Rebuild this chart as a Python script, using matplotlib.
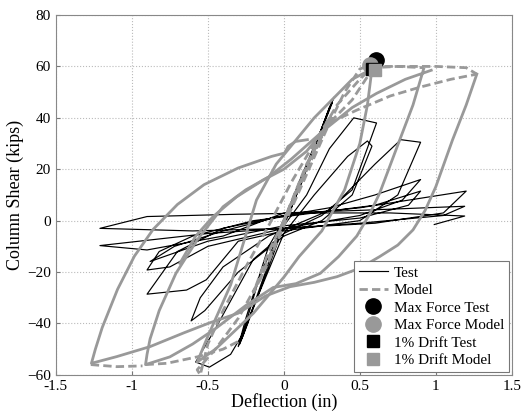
import matplotlib.pyplot as plt

plt.rcParams['font.family'] = ['Liberation Serif', 'DejaVu Serif']

# Test record (deflection in, shear kips)
test_x = [0.00, 0.10, 0.25, 0.33, 0.30, 0.05, -0.10, -0.25, -0.30, -0.27, -0.02, 0.10, 0.30, 0.32,
          0.28, 0.03, -0.15, -0.29, -0.25, 0.00, 0.15, 0.30, 0.46, 0.61, 0.45, 0.25, 0.00, -0.20,
          -0.45, -0.58, -0.49, -0.35, -0.28, 0.00, 0.20, 0.42, 0.55, 0.58, 0.45, 0.25, 0.00, -0.30,
          -0.52, -0.61, -0.55, -0.40, -0.10, 0.30, 0.60, 0.77, 0.90, 0.75, 0.50, 0.00, -0.30, -0.51,
          -0.64, -0.90, -0.70, -0.40, 0.00, 0.30, 0.60, 0.90, 0.78, 0.50, 0.00, -0.50, -0.75, -0.90,
          -0.82, -0.60, -0.20, 0.20, 0.60, 0.90, 0.82, 0.50, 0.00, -0.50, -0.88, -0.72, -0.40, 0.00,
          0.50, 1.20, 1.05, 0.60, 0.00, -0.50, -1.21, -0.90, -0.40, 0.00, 0.50, 1.19, 1.05, 0.50,
          0.00, -0.60, -1.21, -0.90, -0.30, 0.20, 0.70, 1.19, 0.99]
test_y = [0.0, 15.0, 36.0, 48.0, 44.0, 5.0, -10.0, -38.0, -49.0, -45.0, -3.0, 12.0, 44.0, 46.0,
          40.0, 2.0, -20.0, -48.0, -42.0, -2.0, 10.0, 28.0, 40.0, 38.0, 12.0, 2.0, -5.0, -15.0,
          -42.0, -55.0, -57.0, -52.0, -45.0, -5.0, 10.0, 25.0, 31.0, 29.0, 10.0, 0.0, -6.0, -20.0,
          -35.0, -39.0, -30.0, -18.0, -6.0, 4.0, 22.0, 31.5, 30.5, 10.0, 0.0, -4.0, -8.0, -23.0,
          -27.0, -28.6, -12.0, -3.0, 2.0, 5.0, 10.0, 16.0, 8.0, 2.0, -3.0, -10.0, -18.0, -19.2,
          -12.0, -6.0, 0.0, 3.0, 6.0, 11.5, 6.0, 1.0, -2.0, -8.0, -15.9, -10.0, -4.0, 2.0,
          5.0, 11.5, 3.0, -1.0, -3.0, -5.0, -9.7, -11.4, -6.0, 3.0, 4.0, 5.6, 2.0, -1.0,
          -3.0, -4.0, -3.0, 1.6, 2.5, 3.0, 3.0, 1.8, -1.5]

# Model: initial cycles up to the peak (dashed)
model_a_x = [0.00, 0.10, 0.20, 0.30, 0.20, 0.00, -0.10, -0.20, -0.10, 0.00, 0.15, 0.30, 0.40, 0.50, 0.57,
             0.55, 0.45, 0.30, 0.15, 0.00, -0.15, -0.30, -0.45, -0.57, -0.55, -0.50, -0.40, -0.25, -0.10,
             0.05, 0.20, 0.35, 0.50, 0.58, 0.75, 0.92]
model_a_y = [0.0, 14.0, 28.0, 40.0, 26.0, 0.0, -12.0, -28.0, -16.0, -2.0, 18.0, 38.0, 50.0, 59.0, 60.5,
             56.0, 47.0, 38.0, 22.0, 0.0, -22.0, -38.0, -50.0, -58.0, -60.0, -48.0, -35.0, -18.0, -2.0,
             15.0, 30.0, 45.0, 55.0, 59.5, 60.0, 59.5]
# Model: second cycle to +/-0.58 in (solid)
model_i_x = [0.58, 0.55, 0.50, 0.40, 0.25, 0.10, 0.00, -0.20, -0.45, -0.57, -0.50, -0.35, -0.18, -0.05,
             0.20, 0.45, 0.58]
model_i_y = [59.0, 45.0, 30.0, 12.0, -4.0, -14.0, -22.0, -36.0, -50.0, -55.0, -45.0, -25.0, 8.0, 22.0,
             40.0, 55.0, 59.0]
# Model: cycles to +/-0.92 in (solid)
model_b_x = [0.92, 0.85, 0.76, 0.69, 0.63, 0.56, 0.48, 0.36, 0.24, 0.08, -0.07, -0.25, -0.45, -0.60,
             -0.75, -0.91, -0.90, -0.88, -0.82, -0.71, -0.57, -0.40, -0.25, -0.10, 0.05, 0.26, 0.45,
             0.61, 0.80, 0.97]
model_b_y = [59.0, 45.0, 31.0, 20.0, 10.6, 2.0, -6.0, -14.0, -20.5, -24.5, -26.0, -33.0, -42.0, -48.0,
             -53.0, -56.0, -52.0, -46.0, -35.0, -20.5, -7.5, 5.4, 12.0, 17.0, 24.0, 35.0, 44.0,
             49.5, 55.0, 58.5]
# Model: skeleton plateau and negative bottoms (dashed)
model_c_x = [0.58, 0.80, 1.00, 1.20, 1.27]
model_c_y = [60.0, 60.0, 60.0, 59.5, 57.0]
model_d_x = [-0.91, -0.77, -0.57, -0.40, -0.30]
model_d_y = [-56.0, -55.5, -53.0, -50.0, -47.0]
model_e_x = [-1.27, -1.10, -0.93]
model_e_y = [-56.0, -56.8, -56.5]
# Model: cycle to +/-1.27 in (solid)
model_f_x = [1.27, 1.20, 1.11, 1.00, 0.93, 0.85, 0.75, 0.63, 0.50, 0.35, 0.20, 0.04, -0.12, -0.30,
             -0.49, -0.66, -0.88, -1.10, -1.266, -1.24, -1.195, -1.094, -0.983, -0.86, -0.70,
             -0.525, -0.30, -0.08, 0.005, 0.028, 0.077, 0.155]
model_f_y = [57.0, 45.0, 31.4, 13.2, 4.0, -3.6, -9.5, -14.0, -18.5, -21.8, -24.0, -25.7, -29.3, -36.0,
             -39.8, -43.7, -49.0, -52.9, -55.5, -50.0, -41.6, -26.7, -13.8, -3.4, 6.3,
             14.0, 20.5, 25.0, 26.3, 28.9, 30.8, 31.5]
# Model: second reloading branches
model_g_x = [0.30, 0.48, 0.70, 0.90, 1.10, 1.27]
model_g_y = [38.0, 43.0, 48.5, 52.0, 55.0, 57.0]
model_h_x = [-0.684, -0.58, -0.465, -0.31, -0.136, 0.00, 0.15, 0.30]
model_h_y = [-16.6, -6.0, 1.6, 9.3, 15.8, 20.0, 27.0, 38.0]

# Markers
max_test = (0.605, 62.5)
max_model = (0.566, 60.5)
drift_test = (0.58, 59.0)
drift_model = (0.60, 58.6)

gray = '#999999'
fig = plt.figure(figsize=(5.32, 4.17), dpi=100)
ax = fig.add_axes([0.105, 0.101, 0.857, 0.863])

ax.plot(test_x, test_y, color='black', lw=0.85, label='Test')
ax.plot(model_a_x, model_a_y, color=gray, lw=2, ls=(0, (3, 1.5)), label='Model')
for mx, my in [(model_i_x, model_i_y), (model_b_x, model_b_y), (model_f_x, model_f_y),
               (model_h_x, model_h_y)]:
    ax.plot(mx, my, color=gray, lw=2)
for mx, my in [(model_c_x, model_c_y), (model_d_x, model_d_y), (model_e_x, model_e_y),
               (model_g_x, model_g_y)]:
    ax.plot(mx, my, color=gray, lw=2, ls=(0, (3, 1.5)))

ax.plot(*max_test, 'o', color='black', ms=11, label='Max Force Test')
ax.plot(*max_model, 'o', color=gray, ms=11, label='Max Force Model')
ax.plot(*drift_test, 's', color='black', ms=9, label='1% Drift Test')
ax.plot(*drift_model, 's', color=gray, ms=9, label='1% Drift Model')

ax.set_xlim(-1.5, 1.5)
ax.set_ylim(-60, 80)
ax.set_xticks([-1.5, -1, -0.5, 0, 0.5, 1, 1.5])
ax.set_xticklabels(['-1.5', '-1', '-0.5', '0', '0.5', '1', '1.5'])
ax.set_yticks(range(-60, 81, 20))
ax.grid(True, ls=':', color='#bbbbbb', lw=0.8)
ax.tick_params(direction='in', labelsize=11, length=3, color='#777777')
for s in ax.spines.values():
    s.set_color('#888888')
ax.set_xlabel('Deflection (in)', fontsize=13, labelpad=0)
ax.set_ylabel('Column Shear (kips)', fontsize=13, labelpad=2)
leg = ax.legend(loc='lower right', fontsize=11, fancybox=False, framealpha=1,
                edgecolor='#777777', borderaxespad=0.2, handlelength=1.9, labelspacing=0.25,
                borderpad=0.3, handletextpad=0.4)
leg.get_frame().set_linewidth(0.8)

fig.savefig('out.png', dpi=100)
